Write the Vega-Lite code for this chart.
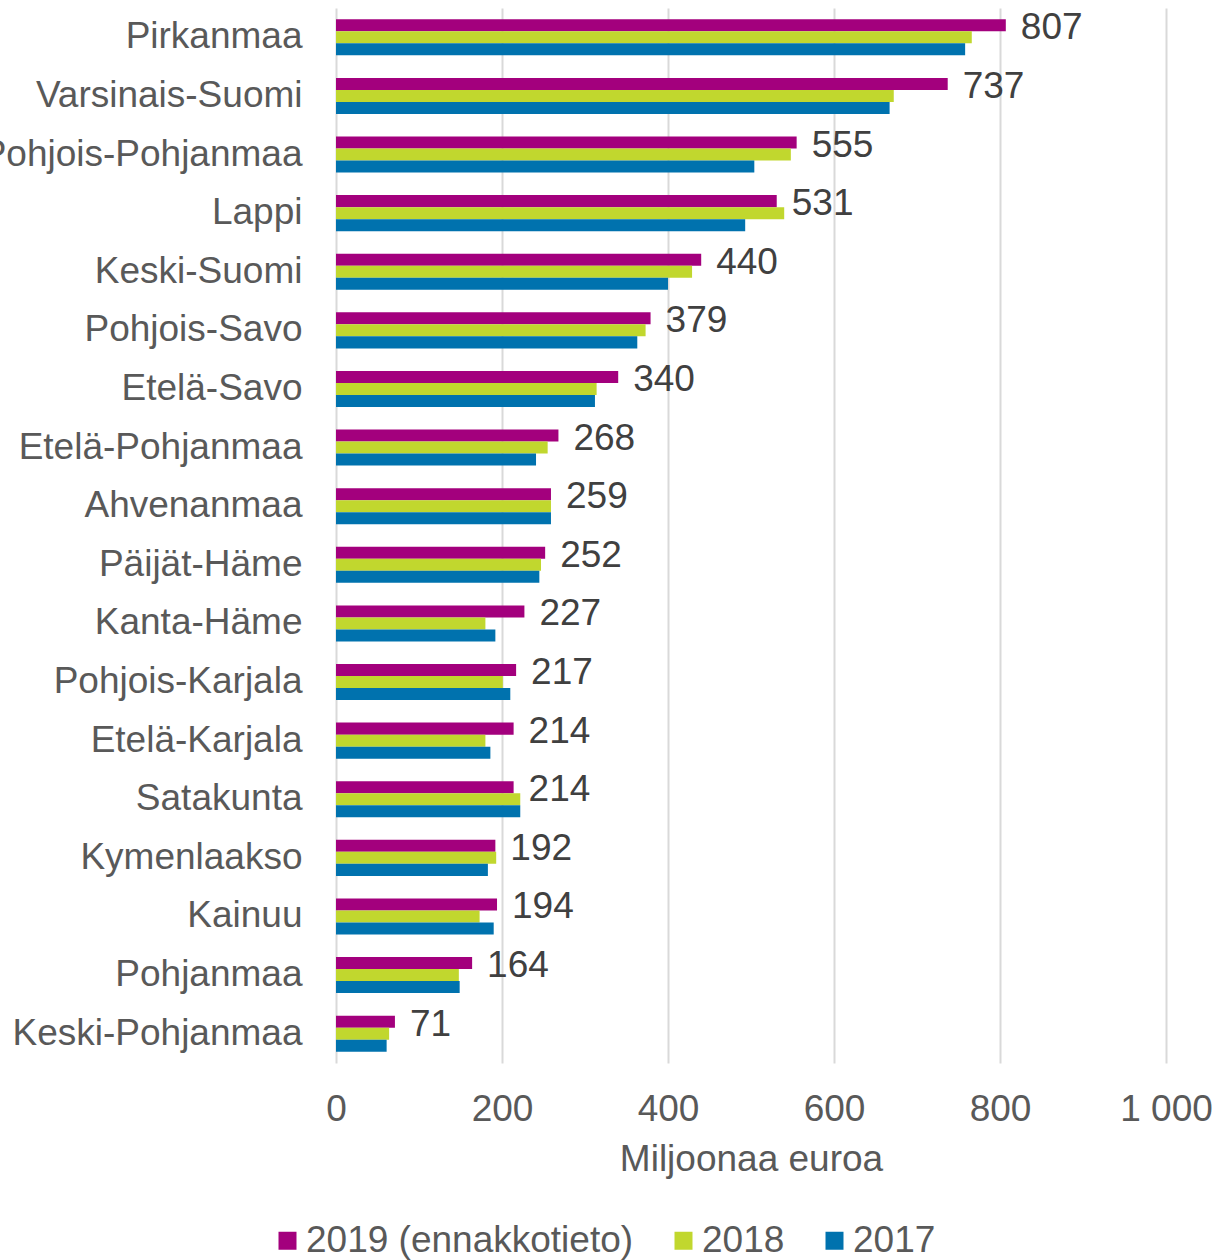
{
  "$schema": "https://vega.github.io/schema/vega-lite/v6.json",
  "autosize": {"type": "none"},
  "padding": {"left": 336, "top": 8, "right": 50, "bottom": 197},
  "width": 830,
  "height": 1055,
  "config": {
    "font": "Liberation Sans",
    "view": {"stroke": null},
    "axis": {"labelColor": "#595959", "titleColor": "#595959", "labelFontSize": 37, "titleFontSize": 37, "titleFontWeight": "normal"},
    "legend": {"labelColor": "#595959", "labelFontSize": 37}
  },
  "data": {
    "values": [
      {"region": "Pirkanmaa", "year": "2019 (ennakkotieto)", "value": 807},
      {"region": "Pirkanmaa", "year": "2018", "value": 766},
      {"region": "Pirkanmaa", "year": "2017", "value": 758},
      {"region": "Varsinais-Suomi", "year": "2019 (ennakkotieto)", "value": 737},
      {"region": "Varsinais-Suomi", "year": "2018", "value": 672},
      {"region": "Varsinais-Suomi", "year": "2017", "value": 667},
      {"region": "Pohjois-Pohjanmaa", "year": "2019 (ennakkotieto)", "value": 555},
      {"region": "Pohjois-Pohjanmaa", "year": "2018", "value": 548},
      {"region": "Pohjois-Pohjanmaa", "year": "2017", "value": 504},
      {"region": "Lappi", "year": "2019 (ennakkotieto)", "value": 531},
      {"region": "Lappi", "year": "2018", "value": 540},
      {"region": "Lappi", "year": "2017", "value": 493},
      {"region": "Keski-Suomi", "year": "2019 (ennakkotieto)", "value": 440},
      {"region": "Keski-Suomi", "year": "2018", "value": 429},
      {"region": "Keski-Suomi", "year": "2017", "value": 400},
      {"region": "Pohjois-Savo", "year": "2019 (ennakkotieto)", "value": 379},
      {"region": "Pohjois-Savo", "year": "2018", "value": 373},
      {"region": "Pohjois-Savo", "year": "2017", "value": 363},
      {"region": "Etelä-Savo", "year": "2019 (ennakkotieto)", "value": 340},
      {"region": "Etelä-Savo", "year": "2018", "value": 314},
      {"region": "Etelä-Savo", "year": "2017", "value": 312},
      {"region": "Etelä-Pohjanmaa", "year": "2019 (ennakkotieto)", "value": 268},
      {"region": "Etelä-Pohjanmaa", "year": "2018", "value": 255},
      {"region": "Etelä-Pohjanmaa", "year": "2017", "value": 241},
      {"region": "Ahvenanmaa", "year": "2019 (ennakkotieto)", "value": 259},
      {"region": "Ahvenanmaa", "year": "2018", "value": 259},
      {"region": "Ahvenanmaa", "year": "2017", "value": 259},
      {"region": "Päijät-Häme", "year": "2019 (ennakkotieto)", "value": 252},
      {"region": "Päijät-Häme", "year": "2018", "value": 247},
      {"region": "Päijät-Häme", "year": "2017", "value": 245},
      {"region": "Kanta-Häme", "year": "2019 (ennakkotieto)", "value": 227},
      {"region": "Kanta-Häme", "year": "2018", "value": 180},
      {"region": "Kanta-Häme", "year": "2017", "value": 192},
      {"region": "Pohjois-Karjala", "year": "2019 (ennakkotieto)", "value": 217},
      {"region": "Pohjois-Karjala", "year": "2018", "value": 201},
      {"region": "Pohjois-Karjala", "year": "2017", "value": 210},
      {"region": "Etelä-Karjala", "year": "2019 (ennakkotieto)", "value": 214},
      {"region": "Etelä-Karjala", "year": "2018", "value": 180},
      {"region": "Etelä-Karjala", "year": "2017", "value": 186},
      {"region": "Satakunta", "year": "2019 (ennakkotieto)", "value": 214},
      {"region": "Satakunta", "year": "2018", "value": 222},
      {"region": "Satakunta", "year": "2017", "value": 222},
      {"region": "Kymenlaakso", "year": "2019 (ennakkotieto)", "value": 192},
      {"region": "Kymenlaakso", "year": "2018", "value": 193},
      {"region": "Kymenlaakso", "year": "2017", "value": 183},
      {"region": "Kainuu", "year": "2019 (ennakkotieto)", "value": 194},
      {"region": "Kainuu", "year": "2018", "value": 173},
      {"region": "Kainuu", "year": "2017", "value": 190},
      {"region": "Pohjanmaa", "year": "2019 (ennakkotieto)", "value": 164},
      {"region": "Pohjanmaa", "year": "2018", "value": 148},
      {"region": "Pohjanmaa", "year": "2017", "value": 149},
      {"region": "Keski-Pohjanmaa", "year": "2019 (ennakkotieto)", "value": 71},
      {"region": "Keski-Pohjanmaa", "year": "2018", "value": 64},
      {"region": "Keski-Pohjanmaa", "year": "2017", "value": 61}
    ]
  },
  "encoding": {
    "y": {
      "field": "region", "type": "nominal", "sort": null, "title": null,
      "scale": {"paddingInner": 0.385, "paddingOuter": 0.1925},
      "axis": {"ticks": false, "domain": false, "labelPadding": 34, "labelLimit": 0}
    },
    "x": {
      "field": "value", "type": "quantitative", "title": "Miljoonaa euroa",
      "scale": {"domain": [0, 1000], "nice": false},
      "axis": {
        "values": [0, 200, 400, 600, 800, 1000],
        "labelExpr": "datum.value == 1000 ? '1 000' : datum.label",
        "labelFlush": false, "labelOverlap": false,
        "grid": true, "gridColor": "#d9d9d9", "gridWidth": 2,
        "domain": false, "ticks": false, "labelPadding": 28, "titlePadding": 14
      }
    },
    "yOffset": {
      "field": "year", "type": "nominal",
      "sort": ["2019 (ennakkotieto)", "2018", "2017"],
      "scale": {"paddingInner": 0, "paddingOuter": 0}
    }
  },
  "layer": [
    {
      "mark": {"type": "bar"},
      "encoding": {
        "color": {
          "field": "year", "type": "nominal",
          "scale": {"domain": ["2019 (ennakkotieto)", "2018", "2017"], "range": ["#a3007d", "#c1d72e", "#0072ae"]},
          "legend": {
            "title": null, "orient": "none", "direction": "horizontal",
            "legendX": -67, "legendY": 1214, "padding": 0,
            "symbolType": "square", "symbolSize": 324, "symbolStrokeWidth": 0,
            "labelOffset": 0, "columnPadding": 31, "labelLimit": 0
          }
        }
      }
    },
    {
      "transform": [{"filter": "datum.year == '2019 (ennakkotieto)'"}],
      "mark": {"type": "text", "align": "left", "baseline": "middle", "dx": 15, "dy": 3, "fontSize": 37, "color": "#404040"},
      "encoding": {"text": {"field": "value", "type": "quantitative"}}
    }
  ]
}
